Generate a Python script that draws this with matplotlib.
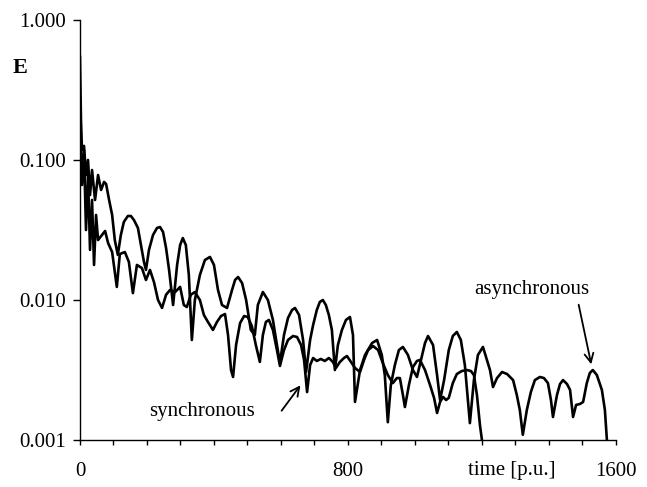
import matplotlib
matplotlib.use('Agg')
import matplotlib.pyplot as plt

plt.rcParams['font.family'] = ['Liberation Serif', 'DejaVu Serif']

# asynchronous run (regular arches, runs on to ~1570)
t_async = [0, 3, 6, 12, 18, 24, 30, 36, 45, 54, 63, 72, 78, 87, 96, 104, 113, 122, 131, 143,
           152, 161, 173, 182, 191, 197, 206, 218, 230, 239, 248, 257, 266, 278, 290, 299, 307,
           316, 325, 334, 343, 358, 373, 388, 400, 412, 424, 439, 454, 463, 472, 484, 496, 510,
           522, 531, 546, 561, 576, 588, 597, 609, 621, 633, 642, 654, 666, 675, 687, 696, 707,
           716, 725, 734, 743, 752, 761, 770, 782, 794, 806, 815, 821, 836, 851, 872, 887, 901,
           910, 919, 928, 940, 952, 964, 979, 994, 1006, 1018, 1030, 1039, 1054, 1066, 1075,
           1087, 1101, 1113, 1125, 1137, 1149, 1164, 1176, 1188, 1203, 1215, 1224, 1233, 1245,
           1260, 1275, 1293, 1304, 1313, 1322, 1334, 1346, 1358, 1373, 1385, 1397, 1406, 1412,
           1424, 1433, 1442, 1454, 1463, 1472, 1481, 1493, 1502, 1513, 1522, 1531, 1543, 1558,
           1567, 1573]
e_async = [0.544, 0.193, 0.118, 0.126, 0.0781, 0.100, 0.0562, 0.0848, 0.0518, 0.0781, 0.0611,
           0.0697, 0.0674, 0.0518, 0.0405, 0.0268, 0.0210, 0.0291, 0.0361, 0.0398, 0.0398,
           0.0373, 0.0327, 0.0247, 0.0187, 0.0164, 0.0228, 0.0291, 0.0327, 0.0332, 0.0306,
           0.0235, 0.0164, 0.00921, 0.0178, 0.0247, 0.0277, 0.0247, 0.0151, 0.00518, 0.0100,
           0.0151, 0.0193, 0.0203, 0.0178, 0.0118, 0.00921, 0.00877, 0.0118, 0.0139, 0.0146,
           0.0132, 0.0100, 0.00611, 0.00562, 0.00921, 0.0114, 0.0100, 0.00720, 0.00477, 0.00355,
           0.00562, 0.00744, 0.00848, 0.00877, 0.00781, 0.00518, 0.00306, 0.00518, 0.00663,
           0.00848, 0.00968, 0.0100, 0.00921, 0.00781, 0.00611, 0.00316, 0.00477, 0.00611,
           0.00720, 0.00756, 0.00562, 0.00187, 0.00316, 0.00405, 0.00493, 0.00518, 0.00405,
           0.00291, 0.00134, 0.00247, 0.00343, 0.00439, 0.00462, 0.00405, 0.00316, 0.00282,
           0.00373, 0.00493, 0.00553, 0.00477, 0.00291, 0.00193, 0.00268, 0.00439, 0.00553,
           0.00591, 0.00518, 0.00343, 0.00132, 0.00268, 0.00405, 0.00462, 0.00373, 0.00316,
           0.00239, 0.00277, 0.00306, 0.00296, 0.00268, 0.00210, 0.00164, 0.00109, 0.00164,
           0.00220, 0.00268, 0.00282, 0.00277, 0.00255, 0.00193, 0.00146, 0.00210, 0.00251,
           0.00268, 0.00251, 0.00228, 0.00146, 0.00178, 0.00181, 0.00187, 0.00255, 0.00301,
           0.00316, 0.00291, 0.00228, 0.00164, 0.00100]

# synchronous run (noisier, stops at ~1200)
t_sync = [0, 6, 12, 18, 24, 30, 36, 42, 48, 54, 63, 75, 84, 96, 110, 119, 134, 146, 158, 170,
          185, 197, 209, 221, 233, 245, 257, 269, 284, 299, 310, 319, 331, 343, 358, 370, 382,
          397, 409, 421, 433, 442, 451, 457, 466, 478, 490, 501, 513, 525, 537, 546, 555, 564,
          576, 588, 597, 609, 621, 636, 648, 660, 669, 678, 687, 696, 707, 719, 731, 743, 755,
          764, 776, 788, 797, 809, 821, 836, 848, 860, 875, 890, 904, 919, 934, 946, 955, 964,
          970, 982, 994, 1006, 1015, 1030, 1045, 1057, 1066, 1075, 1084, 1093, 1101, 1113,
          1125, 1140, 1155, 1167, 1176, 1185, 1194, 1200]
e_sync = [0.200, 0.0663, 0.118, 0.0316, 0.0781, 0.0228, 0.0518, 0.0178, 0.0405, 0.0268, 0.0286,
          0.0311, 0.0255, 0.0220, 0.0124, 0.0213, 0.0220, 0.0187, 0.0112, 0.0178, 0.0169,
          0.0139, 0.0164, 0.0134, 0.0100, 0.00877, 0.0109, 0.0118, 0.0114, 0.0124, 0.00921,
          0.00891, 0.0109, 0.0114, 0.0100, 0.00781, 0.00697, 0.00611, 0.00697, 0.00768,
          0.00794, 0.00562, 0.00316, 0.00282, 0.00477, 0.00685, 0.00768, 0.00756, 0.00652,
          0.00477, 0.00361, 0.00562, 0.00697, 0.00720, 0.00611, 0.00439, 0.00338, 0.00439,
          0.00518, 0.00553, 0.00544, 0.00477, 0.00373, 0.00220, 0.00343, 0.00385, 0.00367,
          0.00379, 0.00367, 0.00385, 0.00361, 0.00327, 0.00361, 0.00385, 0.00398, 0.00361,
          0.00327, 0.00306, 0.00373, 0.00439, 0.00469, 0.00439, 0.00355, 0.00291, 0.00255,
          0.00277, 0.00277, 0.00210, 0.00172, 0.00247, 0.00332, 0.00367, 0.00373, 0.00316,
          0.00247, 0.00200, 0.00156, 0.00187, 0.00203, 0.00193, 0.00200, 0.00255, 0.00296,
          0.00311, 0.00316, 0.00311, 0.00291, 0.00210, 0.00128, 0.00100]

y_ticks = [0.001, 0.01, 0.1, 1.0]
y_labels = ['0.001', '0.010', '0.100', '1.000']
x_ticks = list(range(0, 1601, 100))
x_labels = ['0', '800', '1600']

fig = plt.figure(figsize=(6.47, 4.87), dpi=100)
ax = fig.add_axes([0.1236, 0.0965, 0.8284, 0.8625])

ax.plot(t_async, e_async, color='black', lw=1.9, solid_joinstyle='round')
ax.plot(t_sync, e_sync, color='black', lw=1.9, solid_joinstyle='round')

ax.set_yscale('log')
ax.set_xlim(0, 1600)
ax.set_ylim(0.001, 1.0)
ax.set_yticks(y_ticks)
ax.set_yticklabels(y_labels)
ax.yaxis.set_minor_locator(matplotlib.ticker.NullLocator())
ax.set_xticks(x_ticks)
ax.set_xticklabels([str(t) if str(t) in x_labels else '' for t in x_ticks])

for s in ['top', 'right']:
    ax.spines[s].set_visible(False)
for s in ['left', 'bottom']:
    ax.spines[s].set_linewidth(1.0)

ax.tick_params(axis='y', direction='out', length=5, width=1, pad=5, labelsize=15)
ax.tick_params(axis='x', direction='out', length=3.5, width=1, pad=12, labelsize=15)

ax.text(1290, -0.072, 'time [p.u.]', transform=ax.get_xaxis_transform(),
        ha='center', va='center', fontsize=15)
fig.text(0.031, 0.860, 'E', fontsize=16, fontweight='bold', ha='center', va='center')

ax.text(1349, 0.0118, 'asynchronous', ha='center', va='center', fontsize=15)
ax.annotate('', xy=(1528, 0.00332), xytext=(1487, 0.00968),
            arrowprops=dict(arrowstyle='->', lw=1.3, color='black', mutation_scale=16))

ax.text(364, 0.00161, 'synchronous', ha='center', va='center', fontsize=15)
ax.annotate('', xy=(663, 0.00255), xytext=(597, 0.00156),
            arrowprops=dict(arrowstyle='->', lw=1.3, color='black', mutation_scale=16))

fig.savefig('out.png', dpi=100)
